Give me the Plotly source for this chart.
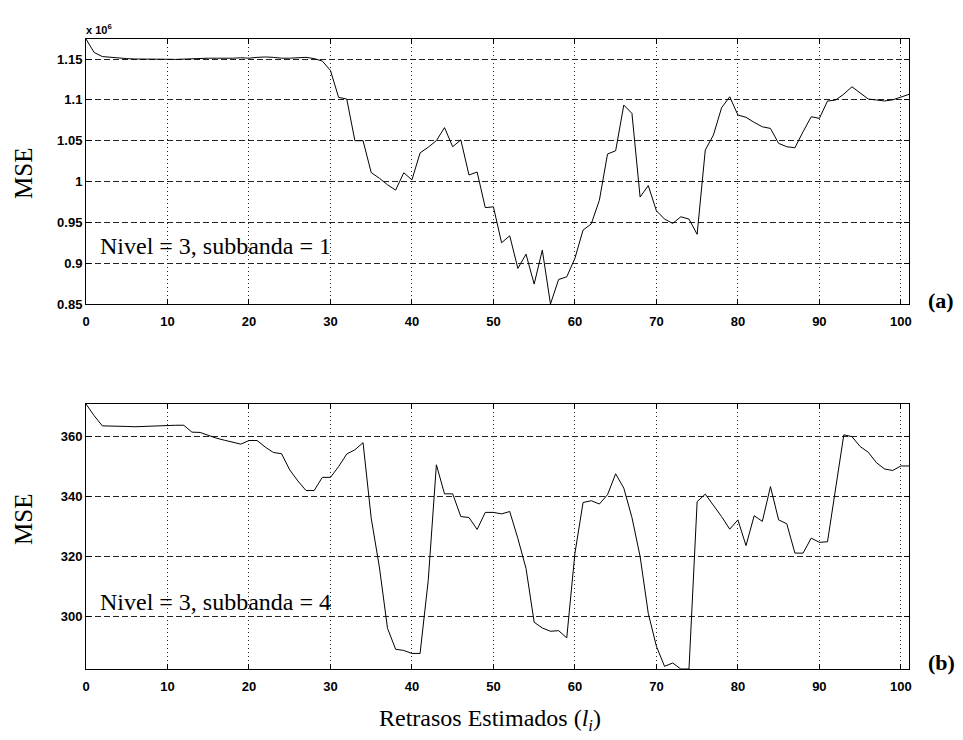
import plotly.graph_objects as go

# Estimated delays (samples) shared by both panels
lags = list(range(0, 102))

# MSE, level 3 / subband 1, in units of 1e6
mse_sub1 = [
    1.1745, 1.158, 1.153, 1.152, 1.151, 1.1505, 1.150, 1.1497, 1.1497, 1.1497,
    1.1497, 1.1495, 1.150, 1.1502, 1.1505, 1.151, 1.151, 1.1508, 1.151, 1.1515,
    1.151, 1.152, 1.1525, 1.152, 1.151, 1.151, 1.1515, 1.152, 1.1505, 1.1475,
    1.136, 1.103, 1.101, 1.050, 1.050, 1.011, 1.004, 0.996, 0.9895, 1.0107,
    1.002, 1.035, 1.042, 1.050, 1.066, 1.0426, 1.051, 1.008, 1.0116, 0.968,
    0.969, 0.925, 0.9335, 0.8936, 0.911, 0.8744, 0.916, 0.850, 0.880, 0.8833,
    0.906, 0.9405, 0.948, 0.977, 1.0336, 1.0377, 1.0936, 1.0834, 0.981, 0.995,
    0.9642, 0.954, 0.9487, 0.9568, 0.954, 0.9353, 1.0385, 1.057, 1.0903, 1.1038,
    1.0814, 1.0786, 1.0724, 1.067, 1.065, 1.0467, 1.0426, 1.0413, 1.061, 1.0793,
    1.0773, 1.0985, 1.0998, 1.107, 1.116, 1.108, 1.101, 1.0998, 1.0986, 1.100,
    1.1038, 1.1067,
]

# MSE, level 3 / subband 4
mse_sub4 = [
    370.9, 367.0, 363.6, 363.6, 363.5, 363.4, 363.3, 363.4, 363.6, 363.8,
    363.8, 363.8, 363.8, 361.5, 361.4, 360.4, 359.5, 358.8, 358.2, 357.5,
    358.7, 358.7, 356.5, 354.7, 354.3, 348.9, 345.2, 342.0, 342.0, 346.4,
    346.4, 350.0, 354.2, 355.6, 358.0, 332.8, 316.5, 296.0, 289.0, 288.6,
    287.6, 287.6, 312.0, 350.6, 340.9, 340.9, 333.3, 333.0, 329.0, 334.7,
    334.7, 334.2, 335.0, 326.0, 316.0, 298.0, 296.1, 295.0, 295.2, 292.8,
    321.0, 338.0, 338.6, 337.5, 340.6, 347.6, 342.8, 333.0, 320.0, 301.0,
    290.0, 283.3, 284.4, 282.4, 282.4, 338.3, 340.8, 337.2, 333.3, 329.1,
    332.2, 323.6, 333.6, 331.7, 343.3, 332.2, 330.9, 321.1, 321.1, 326.1,
    324.7, 324.9, 343.3, 360.6, 360.0, 356.7, 354.8, 351.3, 349.2, 348.7,
    350.2, 350.2,
]

x_ticks = [0, 10, 20, 30, 40, 50, 60, 70, 80, 90, 100]
y_ticks_sub1 = [0.85, 0.9, 0.95, 1.0, 1.05, 1.1, 1.15]
y_text_sub1 = ["0.85", "0.9", "0.95", "1", "1.05", "1.1", "1.15"]
y_ticks_sub4 = [300, 320, 340, 360]

panel_labels = ["Nivel = 3, subbanda = 1", "Nivel = 3, subbanda = 4"]

SERIF = "Liberation Serif, Times New Roman, serif"
SANS = "Liberation Sans, Arial, sans-serif"

fig = go.Figure()
fig.add_trace(go.Scatter(x=lags, y=mse_sub1, mode="lines",
                         line=dict(color="black", width=1),
                         xaxis="x", yaxis="y", showlegend=False))
fig.add_trace(go.Scatter(x=lags, y=mse_sub4, mode="lines",
                         line=dict(color="black", width=1),
                         xaxis="x2", yaxis="y2", showlegend=False))

axis_common = dict(
    showline=True, linecolor="black", linewidth=1, mirror="ticks",
    ticks="inside", ticklen=5, tickcolor="black", tickwidth=1,
    showgrid=True, gridcolor="#222", gridwidth=1,
    zeroline=False,
    tickfont=dict(family=SANS, size=13, color="black", weight="bold"),
)

top_bottom = (669 - 304) / 630
bottom_top = (669 - 404) / 630

fig.update_layout(
    width=963, height=740, autosize=False,
    margin=dict(l=86, r=54, t=39, b=71),
    paper_bgcolor="white", plot_bgcolor="white",
    xaxis=dict(axis_common, domain=[0, 1], anchor="y",
               range=[0, 101], tickvals=x_ticks, griddash="1px,3px",
               ticklabelstandoff=5),
    yaxis=dict(axis_common, domain=[top_bottom, 1], anchor="x",
               range=[min(mse_sub1), max(mse_sub1)],
               tickvals=y_ticks_sub1, ticktext=y_text_sub1, griddash="6px,3px"),
    xaxis2=dict(axis_common, domain=[0, 1], anchor="y2",
                range=[0, 101], tickvals=x_ticks, griddash="1px,3px",
                ticklabelstandoff=5),
    yaxis2=dict(axis_common, domain=[0, bottom_top], anchor="x2",
                range=[min(mse_sub4), max(mse_sub4)],
                tickvals=y_ticks_sub4, griddash="6px,3px"),
)

annotations = [
    # exponent of the upper y axis
    dict(text="x 10<sup>6</sup>", xref="paper", yref="paper", x=-0.002, y=1.0,
         xanchor="left", yanchor="bottom", yshift=1, showarrow=False,
         font=dict(family=SANS, size=11, color="black", weight="bold")),
    # panel descriptions
    dict(text=panel_labels[0], xref="x", yref="y", x=1.5, y=0.921,
         xanchor="left", yanchor="middle", showarrow=False,
         font=dict(family=SERIF, size=24, color="black")),
    dict(text=panel_labels[1], xref="x2", yref="y2", x=1.5, y=304.9,
         xanchor="left", yanchor="middle", showarrow=False,
         font=dict(family=SERIF, size=24, color="black")),
    # y axis titles
    dict(text="MSE", xref="paper", yref="paper", x=(23 - 86) / 823,
         y=(669 - 174) / 630, textangle=-90, xanchor="center", yanchor="middle",
         showarrow=False, font=dict(family=SERIF, size=25, color="black")),
    dict(text="MSE", xref="paper", yref="paper", x=(23 - 86) / 823,
         y=(669 - 520) / 630, textangle=-90, xanchor="center", yanchor="middle",
         showarrow=False, font=dict(family=SERIF, size=25, color="black")),
    # x axis title
    dict(text="Retrasos Estimados (<i>l</i><sub><i>i</i></sub>)",
         xref="paper", yref="paper", x=(490 - 86) / 823, y=(669 - 720) / 630,
         xanchor="center", yanchor="middle", showarrow=False,
         font=dict(family=SERIF, size=24, color="black")),
    # panel tags
    dict(text="<b>(a)</b>", xref="paper", yref="paper", x=(941 - 86) / 823,
         y=(669 - 300) / 630, xanchor="center", yanchor="middle",
         showarrow=False, font=dict(family=SERIF, size=22, color="black")),
    dict(text="<b>(b)</b>", xref="paper", yref="paper", x=(941 - 86) / 823,
         y=(669 - 662) / 630, xanchor="center", yanchor="middle",
         showarrow=False, font=dict(family=SERIF, size=22, color="black")),
]
fig.update_layout(annotations=annotations)

fig.write_html("out.html")
